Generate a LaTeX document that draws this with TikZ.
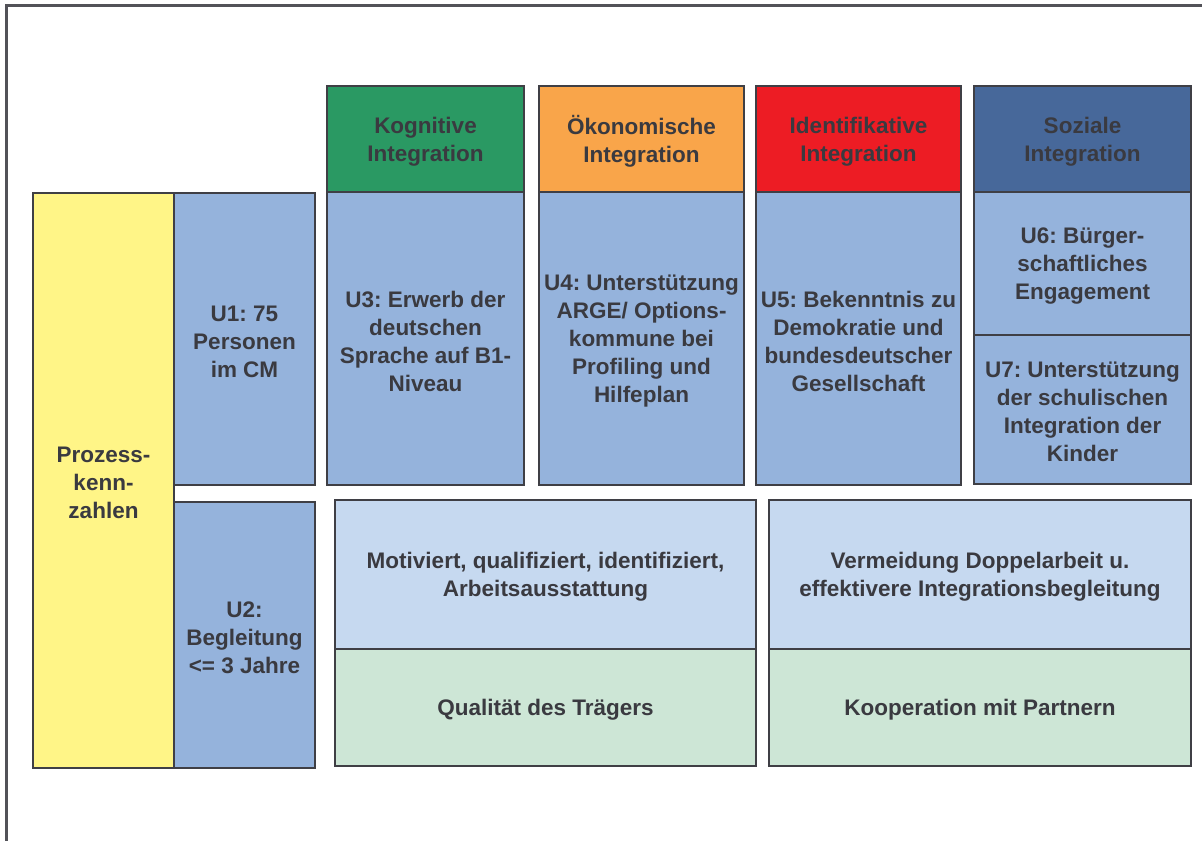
\documentclass[tikz,border=0pt]{standalone}
\usepackage{fontspec}
\setmainfont{Liberation Sans}
\frenchspacing
\definecolor{txt}{HTML}{3A3A40}
\definecolor{edge}{HTML}{3F3F45}
\definecolor{pyellow}{HTML}{FFF587}
\definecolor{ublue}{HTML}{95B3DC}
\definecolor{lblue}{HTML}{C6D9F0}
\definecolor{lgreen}{HTML}{CDE6D6}
\definecolor{kgreen}{HTML}{2A9963}
\definecolor{korange}{HTML}{F9A54A}
\definecolor{kred}{HTML}{ED1C24}
\definecolor{knavy}{HTML}{47689A}
\tikzset{
  cell/.style={draw=edge, line width=2pt, anchor=north west, inner sep=0pt},
  lbl/.style={inner sep=0pt, align=center, text=txt, yshift=-2.5pt,
    font=\fontsize{22.5}{28}\selectfont\bfseries},
  frame/.style={draw=edge!90, line width=2.5pt}
}
\begin{document}
\begin{tikzpicture}[x=1pt,y=-1pt]
\useasboundingbox (0,0) rectangle (1202,841);
\draw[frame] (1202,5.5) -- (6.5,5.5) -- (6.5,841);

% left column: process indicators
\node[cell, fill=pyellow, minimum width=141pt, minimum height=575pt] (pk) at (32,192) {};
\node[cell, fill=ublue, minimum width=141pt, minimum height=292pt] (u1) at (173,192) {};
\node[cell, fill=ublue, minimum width=141pt, minimum height=266pt] (u2) at (173,501) {};

% integration headers
\node[cell, fill=kgreen, minimum width=197pt, minimum height=106pt] (hk) at (326,85) {};
\node[cell, fill=korange, minimum width=205pt, minimum height=106pt] (ho) at (538,85) {};
\node[cell, fill=kred, minimum width=205pt, minimum height=106pt] (hi) at (755,85) {};
\node[cell, fill=knavy, minimum width=217pt, minimum height=106pt] (hs) at (973,85) {};

% integration goals
\node[cell, fill=ublue, minimum width=197pt, minimum height=293pt] (u3) at (326,191) {};
\node[cell, fill=ublue, minimum width=205pt, minimum height=293pt] (u4) at (538,191) {};
\node[cell, fill=ublue, minimum width=205pt, minimum height=293pt] (u5) at (755,191) {};
\node[cell, fill=ublue, minimum width=217pt, minimum height=143pt] (u6) at (973,191) {};
\node[cell, fill=ublue, minimum width=217pt, minimum height=149pt] (u7) at (973,334) {};

% structural factors
\node[cell, fill=lblue, minimum width=421pt, minimum height=149pt] (mq) at (334,499) {};
\node[cell, fill=lgreen, minimum width=421pt, minimum height=117pt] (qt) at (334,648) {};
\node[cell, fill=lblue, minimum width=422pt, minimum height=149pt] (vd) at (768,499) {};
\node[cell, fill=lgreen, minimum width=422pt, minimum height=117pt] (kp) at (768,648) {};

% labels, centred in their boxes
\node[lbl] (t-pk) at (pk.center) {Prozess-\\kenn-\\zahlen};
\node[lbl] (t-u1) at (u1.center) {U1: 75\\Personen\\im CM};
\node[lbl] (t-u2) at (u2.center) {U2:\\Begleitung\\<= 3 Jahre};
\node[lbl] (t-hk) at (hk.center) {Kognitive\\Integration};
\node[lbl] (t-ho) at (ho.center) {Ökonomische\\Integration};
\node[lbl] (t-hi) at (hi.center) {Identifikative\\Integration};
\node[lbl] (t-hs) at (hs.center) {Soziale\\Integration};
\node[lbl] (t-u3) at (u3.center) {U3: Erwerb der\\deutschen\\Sprache auf B1-\\Niveau};
\node[lbl] (t-u4) at (u4.center) {U4: Unterstützung\\ARGE/ Options-\\kommune bei\\Profiling und\\Hilfeplan};
\node[lbl] (t-u5) at (u5.center) {U5: Bekenntnis zu\\Demokratie und\\bundesdeutscher\\Gesellschaft};
\node[lbl] (t-u6) at (u6.center) {U6: Bürger-\\schaftliches\\Engagement};
\node[lbl] (t-u7) at (u7.center) {U7: Unterstützung\\der schulischen\\Integration der\\Kinder};
\node[lbl] (t-mq) at (mq.center) {Motiviert, qualifiziert, identifiziert,\\Arbeitsausstattung};
\node[lbl] (t-qt) at (qt.center) {Qualität des Trägers};
\node[lbl] (t-vd) at (vd.center) {Vermeidung Doppelarbeit u.\\effektivere Integrationsbegleitung};
\node[lbl] (t-kp) at (kp.center) {Kooperation mit Partnern};
\end{tikzpicture}
\end{document}
